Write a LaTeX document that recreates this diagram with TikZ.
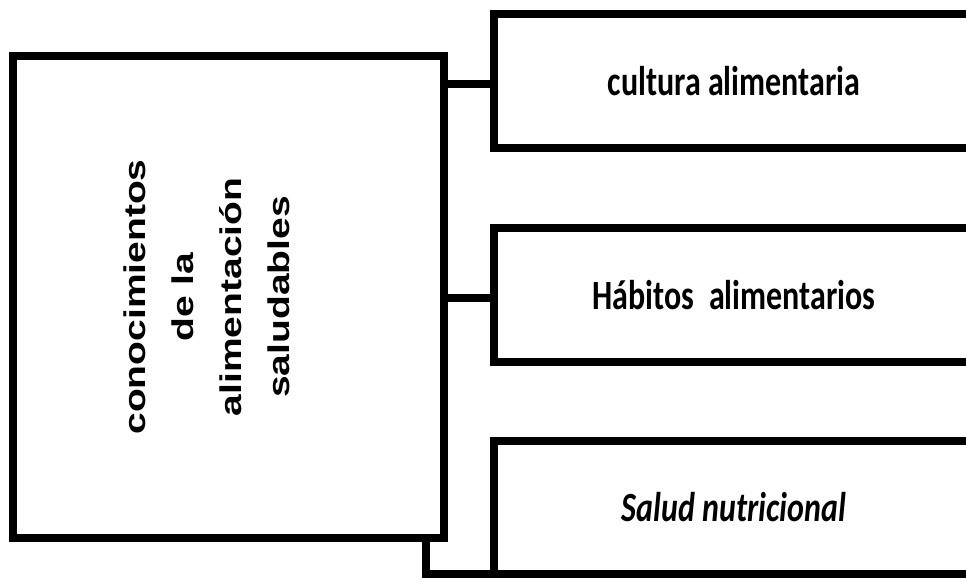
\documentclass[tikz,border=0pt]{standalone}
\usepackage{fontspec}
\setmainfont{Carlito}
\newfontfamily\arialfont{Liberation Sans}
\usepackage{graphicx}
\begin{document}
\begin{tikzpicture}[x=1pt,y=-1pt,
  box/.style={draw=black, line width=8pt, rectangle, outer sep=0pt, inner sep=0pt},
  conn/.style={draw=black, line width=8pt},
  rtext/.style={font=\bfseries\fontsize{32}{40}\selectfont}]
\useasboundingbox (0,0) rectangle (966,578);
% left box
\node[box, minimum width=431pt, minimum height=482pt] (lb) at (228.5,297) {};
\node[inner sep=0pt, rotate=90, font=\arialfont\bfseries\fontsize{30}{48}\selectfont] (lt) at (208,297)
  {\scalebox{1.3}[1]{\begin{tabular}{@{}c@{}}conocimientos\\de la\\alimentación\\saludables\end{tabular}}};
% right boxes
\node[box, minimum width=480pt, minimum height=134pt, rtext] (b1) at (734,81)
  {\scalebox{1}[1.3]{cultura alimentaria}};
\node[box, minimum width=480pt, minimum height=134pt, rtext] (b2) at (734,295)
  {\scalebox{1}[1.3]{Hábitos\ \ alimentarios}};
\node[box, minimum width=480pt, minimum height=133pt, rtext] (b3) at (734,507.5)
  {\scalebox{1}[1.3]{\itshape Salud nutricional}};
% connectors
\coordinate (c1) at ([yshift=-3pt]b1.west);
\coordinate (c2) at ([yshift=-3pt]b2.west);
\draw[conn] (lb.east |- c1) -- (c1);
\draw[conn] (lb.east |- c2) -- (c2);
\draw[conn] ([xshift=-18pt]lb.south east) |- (b3.south west);
\end{tikzpicture}
\end{document}
